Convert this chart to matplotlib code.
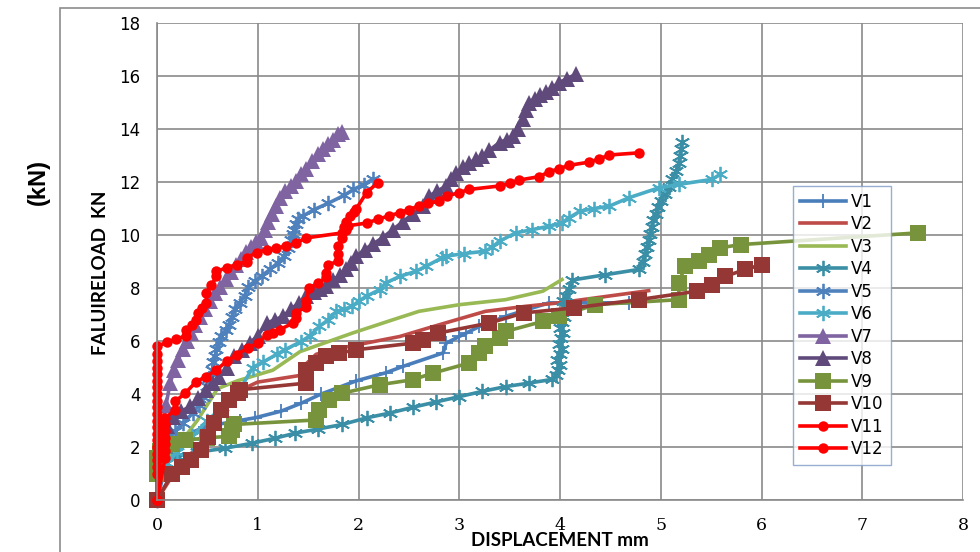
import matplotlib
matplotlib.use("Agg")
import matplotlib.pyplot as plt
from matplotlib.patches import Rectangle

# ---------------- data (displacement mm, load kN) ----------------
v1_pts = [(0, 0), (0.1, 1.5), (0.2, 2.3), (0.48, 2.77), (0.82, 3.0), (0.97, 3.1), (1.23, 3.35),
          (1.43, 3.65), (1.63, 4.0), (1.98, 4.5), (2.27, 4.8), (2.44, 5.04), (2.84, 5.55),
          (2.87, 5.92), (3.0, 6.17), (3.07, 6.3), (3.2, 6.55), (3.46, 6.93), (3.89, 7.44), (4.68, 7.44)]

v2_pts = [(0, 0), (0.2, 1.2), (0.4, 2.0), (0.6, 3.0), (0.8, 4.1), (1.0, 4.45), (1.42, 4.7),
          (1.47, 5.1), (1.58, 5.5), (1.91, 5.8), (2.41, 6.17), (2.7, 6.5), (2.97, 6.8),
          (3.26, 7.12), (3.66, 7.31), (3.99, 7.44), (4.88, 7.9)]

v3_pts = [(0, 1.0), (0.2, 2.0), (0.4, 3.0), (0.6, 4.2), (0.8, 4.5), (1.15, 4.9), (1.42, 5.6),
          (1.94, 6.3), (2.34, 6.8), (2.6, 7.12), (3.0, 7.37), (3.46, 7.56), (3.83, 7.88), (4.02, 8.32)]

v4_pts = [(0, 0), (0.05, 1.3), (0.2, 1.65), (0.4, 1.8), (0.67, 1.95), (0.94, 2.14), (1.17, 2.33),
          (1.37, 2.52), (1.6, 2.68), (1.84, 2.85), (2.08, 3.1), (2.31, 3.28), (2.54, 3.5),
          (2.77, 3.7), (3.0, 3.9), (3.23, 4.1), (3.46, 4.28), (3.69, 4.41), (3.92, 4.55),
          (3.96, 4.7), (3.98, 4.9), (4.0, 5.1), (3.97, 5.3), (4.0, 5.5), (4.02, 5.7), (3.99, 5.9),
          (4.01, 6.1), (4.03, 6.3), (4.0, 6.5), (4.02, 6.7), (4.04, 6.9), (4.02, 7.1), (4.05, 7.3),
          (4.03, 7.5), (4.06, 7.7), (4.09, 7.95), (4.12, 8.3), (4.45, 8.5), (4.78, 8.7),
          (4.82, 9.0), (4.84, 9.3), (4.86, 9.55), (4.88, 9.8), (4.89, 10.05), (4.91, 10.3),
          (4.92, 10.55), (4.95, 10.8), (4.97, 11.05), (5.0, 11.3), (5.04, 11.55), (5.08, 11.8),
          (5.11, 12.1), (5.15, 12.4), (5.18, 12.7), (5.19, 13.0), (5.2, 13.25), (5.21, 13.5)]

v5_pts = [(0, 0), (0.05, 1.5), (0.1, 2.2), (0.18, 2.6), (0.26, 2.9), (0.36, 3.3), (0.42, 3.6),
          (0.46, 3.9), (0.5, 4.3), (0.52, 4.6), (0.55, 4.9), (0.56, 5.2), (0.58, 5.45),
          (0.59, 5.7), (0.62, 5.95), (0.64, 6.2), (0.68, 6.4), (0.71, 6.6), (0.74, 6.9),
          (0.77, 7.2), (0.82, 7.45), (0.87, 7.7), (0.9, 8.05), (0.97, 8.25), (1.04, 8.45),
          (1.12, 8.7), (1.2, 8.95), (1.26, 9.2), (1.3, 9.5), (1.33, 9.8), (1.35, 10.05),
          (1.36, 10.2), (1.38, 10.4), (1.4, 10.6), (1.45, 10.72), (1.56, 10.96), (1.7, 11.2),
          (1.86, 11.5), (1.95, 11.72), (2.05, 11.9), (2.14, 12.1)]

v6_pts = [(0, 1.0), (0.1, 1.4), (0.2, 1.8), (0.35, 2.4), (0.5, 3.0), (0.65, 3.5), (0.82, 4.15),
          (0.95, 5.0), (1.05, 5.2), (1.19, 5.5), (1.27, 5.67), (1.43, 5.98), (1.52, 6.2),
          (1.61, 6.55), (1.7, 6.8), (1.78, 7.12), (1.86, 7.2), (1.94, 7.31), (2.0, 7.5),
          (2.08, 7.69), (2.21, 7.94), (2.27, 8.19), (2.41, 8.44), (2.57, 8.63), (2.67, 8.82),
          (2.83, 9.14), (2.87, 9.2), (3.05, 9.3), (3.26, 9.39), (3.33, 9.55), (3.4, 9.77),
          (3.56, 10.08), (3.72, 10.2), (3.89, 10.33), (4.02, 10.46), (4.09, 10.65), (4.2, 10.9),
          (4.34, 11.0), (4.49, 11.09), (4.68, 11.4), (4.98, 11.78), (5.18, 11.91), (5.51, 12.1),
          (5.59, 12.29)]

v7_pts = [(0, 1.5), (0.03, 2.2), (0.06, 2.9), (0.09, 3.6), (0.13, 4.4), (0.17, 4.9), (0.21, 5.3),
          (0.26, 5.7), (0.3, 6.0), (0.34, 6.3), (0.38, 6.6), (0.43, 6.9), (0.48, 7.2), (0.53, 7.5),
          (0.58, 7.8), (0.63, 8.05), (0.68, 8.35), (0.73, 8.6), (0.78, 8.85), (0.83, 9.1),
          (0.88, 9.35), (0.93, 9.55), (0.98, 9.75), (1.03, 9.9), (1.07, 10.2), (1.1, 10.5),
          (1.14, 10.8), (1.18, 11.1), (1.22, 11.4), (1.27, 11.65), (1.33, 11.85), (1.38, 12.05),
          (1.43, 12.3), (1.48, 12.5), (1.54, 12.8), (1.6, 13.05), (1.65, 13.25), (1.7, 13.45),
          (1.75, 13.6), (1.8, 13.8), (1.84, 13.9)]

v8_pts = [(0.05, 2.3), (0.1, 2.8), (0.16, 3.15), (0.24, 3.35), (0.33, 3.53), (0.41, 3.85),
          (0.49, 4.16), (0.56, 4.4), (0.62, 4.66), (0.69, 5.0), (0.76, 5.42), (0.84, 5.65),
          (0.92, 5.92), (1.0, 6.2), (1.09, 6.68), (1.17, 6.8), (1.25, 6.93), (1.33, 7.2),
          (1.41, 7.45), (1.48, 7.69), (1.56, 7.85), (1.62, 7.95), (1.68, 8.06), (1.75, 8.3),
          (1.82, 8.5), (1.88, 8.7), (1.93, 8.95), (1.98, 9.2), (2.06, 9.45), (2.14, 9.65),
          (2.24, 9.9), (2.34, 10.2), (2.44, 10.5), (2.54, 10.8), (2.64, 11.09), (2.7, 11.47),
          (2.78, 11.65), (2.87, 11.85), (2.92, 12.1), (2.97, 12.35), (3.04, 12.55), (3.1, 12.73),
          (3.17, 12.85), (3.23, 12.98), (3.3, 13.2), (3.4, 13.49), (3.47, 13.6), (3.53, 13.74),
          (3.58, 14.0), (3.63, 14.37), (3.66, 14.7), (3.69, 15.0), (3.75, 15.15), (3.8, 15.28),
          (3.86, 15.38), (3.92, 15.55), (3.99, 15.75), (4.07, 15.9), (4.16, 16.07)]

v9_pts = [(0, 1.0), (0, 1.3), (0, 1.6), (0.03, 1.85), (0.15, 2.1), (0.28, 2.25), (0.5, 2.35),
          (0.71, 2.4), (0.74, 2.65), (0.76, 2.85), (1.58, 3.02), (1.61, 3.4), (1.71, 3.78),
          (1.84, 4.03), (2.21, 4.35), (2.54, 4.54), (2.74, 4.79), (3.1, 5.17), (3.2, 5.55),
          (3.26, 5.8), (3.4, 6.11), (3.46, 6.36), (3.83, 6.74), (3.99, 6.93), (4.35, 7.37),
          (5.18, 7.56), (5.18, 8.19), (5.24, 8.82), (5.38, 9.01), (5.48, 9.26), (5.59, 9.52),
          (5.8, 9.64), (7.55, 10.08)]

v10_pts = [(0, 0), (0.15, 1.0), (0.25, 1.25), (0.34, 1.5), (0.44, 1.89), (0.51, 2.39), (0.57, 2.9),
           (0.64, 3.4), (0.71, 3.78), (0.8, 4.03), (0.82, 4.16), (1.48, 4.41), (1.48, 4.9),
           (1.58, 5.17), (1.68, 5.42), (1.81, 5.55), (1.98, 5.67), (2.54, 5.92), (2.64, 6.05),
           (2.79, 6.3), (3.3, 6.68), (3.64, 7.06), (4.14, 7.25), (4.78, 7.56), (5.36, 7.88),
           (5.51, 8.13), (5.64, 8.44), (5.84, 8.7), (6.0, 8.88)]

v11_pts = [(0, 0), (0, 1.0), (0, 1.25), (0, 1.5), (0, 1.75), (0, 2.0), (0, 2.25), (0, 2.5), (0, 2.75),
           (0, 3.0), (0, 3.25), (0, 3.5), (0, 3.75), (0, 4.0), (0, 4.25), (0, 4.5), (0, 4.75),
           (0, 5.0), (0, 5.25), (0, 5.5), (0, 5.8), (0.1, 5.95), (0.19, 6.07), (0.29, 6.2),
           (0.29, 6.4), (0.35, 6.6), (0.39, 6.8), (0.41, 7.06), (0.45, 7.25), (0.49, 7.44),
           (0.49, 7.81), (0.54, 8.1), (0.59, 8.44), (0.59, 8.63), (0.69, 8.76), (0.79, 8.88),
           (0.89, 9.0), (0.89, 9.15), (0.99, 9.33), (1.09, 9.45), (1.18, 9.5), (1.28, 9.58),
           (1.38, 9.7), (1.48, 9.89), (1.84, 10.08), (1.86, 10.3), (1.88, 10.5), (1.92, 10.7),
           (1.96, 10.85), (1.98, 11.0), (2.08, 11.6), (2.19, 11.97)]

v12_pts = [(0, 0), (0.08, 1.58), (0.08, 1.85), (0.08, 2.1), (0.08, 2.35), (0.08, 2.6), (0.08, 2.85),
           (0.08, 3.09), (0.18, 3.4), (0.18, 3.72), (0.28, 4.03), (0.39, 4.47), (0.49, 4.66),
           (0.59, 4.91), (0.69, 5.23), (0.79, 5.48), (0.9, 5.73), (1.0, 5.92), (1.09, 6.24),
           (1.15, 6.3), (1.22, 6.43), (1.35, 6.68), (1.38, 6.85), (1.38, 7.06), (1.48, 7.3),
           (1.48, 7.5), (1.51, 8.0), (1.6, 8.19), (1.68, 8.4), (1.68, 8.57), (1.7, 8.88),
           (1.8, 9.01), (1.8, 9.3), (1.8, 9.58), (1.84, 9.9), (1.88, 10.2), (1.9, 10.35),
           (2.08, 10.45), (2.19, 10.59), (2.3, 10.72), (2.41, 10.84), (2.5, 10.96), (2.6, 11.09),
           (2.69, 11.19), (2.8, 11.28), (2.88, 11.47), (3.0, 11.6), (3.1, 11.72), (3.4, 11.85),
           (3.5, 11.95), (3.59, 12.07), (3.79, 12.2), (3.89, 12.38), (3.99, 12.5), (4.09, 12.63),
           (4.29, 12.75), (4.39, 12.87), (4.49, 13.02), (4.78, 13.1)]

series_names = ["V1", "V2", "V3", "V4", "V5", "V6", "V7", "V8", "V9", "V10", "V11", "V12"]
series_data = [v1_pts, v2_pts, v3_pts, v4_pts, v5_pts, v6_pts, v7_pts, v8_pts, v9_pts,
               v10_pts, v11_pts, v12_pts]

x_ticks = [0, 1, 2, 3, 4, 5, 6, 7, 8]
y_ticks = [0, 2, 4, 6, 8, 10, 12, 14, 16, 18]

# ---------------- styles ----------------
ast = (6, 2, 0)
styles = {
    "V1": dict(color="#4A7EBB", marker="+", ms=10, mew=1.3),
    "V2": dict(color="#BE4B48", marker=None),
    "V3": dict(color="#98B954", marker=None),
    "V4": dict(color="#3A8FA6", marker=ast, ms=11, mew=1.3),
    "V5": dict(color="#4F81BD", marker=ast, ms=11, mew=1.3),
    "V6": dict(color="#4BACC6", marker=ast, ms=11, mew=1.3),
    "V7": dict(color="#8064A2", marker="^", ms=12, mew=0),
    "V8": dict(color="#604A7B", marker="^", ms=12, mew=0),
    "V9": dict(color="#77933C", marker="s", ms=11, mew=0),
    "V10": dict(color="#953735", marker="s", ms=11, mew=0),
    "V11": dict(color="#FF0000", marker="o", ms=7.5, mew=0),
    "V12": dict(color="#FF0000", marker="o", ms=7.5, mew=0),
}

W, H = 980, 552
fig = plt.figure(figsize=(W / 100, H / 100), dpi=100)
fig.patch.set_facecolor("white")

x0, x1, ytop, ybot = 157, 963, 23, 500
ax = fig.add_axes([x0 / W, 1 - ybot / H, (x1 - x0) / W, (ybot - ytop) / H])

# outer chart border
fig.patches.append(Rectangle((60 / W, -0.1), 1.2, 1 - 8 / H + 0.1, transform=fig.transFigure,
                             fill=False, edgecolor="#8C8C8C", linewidth=1.2, zorder=0))

for name, pts in zip(series_names, series_data):
    st = styles[name]
    xs = [p[0] for p in pts]
    ys = [p[1] for p in pts]
    kw = dict(color=st["color"], lw=2.6, label=name, solid_joinstyle="round")
    if st["marker"] is not None:
        kw.update(marker=st["marker"], markersize=st["ms"], markeredgewidth=st["mew"],
                  markerfacecolor=st["color"], markeredgecolor=st["color"])
    ax.plot(xs, ys, **kw, clip_on=False)

ax.set_xlim(0, 8)
ax.set_ylim(0, 18)
ax.set_xticks(x_ticks)
ax.set_yticks(y_ticks)
ax.set_xticklabels([str(t) for t in x_ticks], fontsize=12.5, family="DejaVu Serif")
ax.set_yticklabels([str(t) for t in y_ticks], fontsize=12, family="DejaVu Sans")
ax.tick_params(axis="both", length=0)
ax.tick_params(axis="x", pad=12)
ax.tick_params(axis="y", pad=12)
ax.grid(True, color="#8A8A8A", linewidth=1.2)
ax.set_axisbelow(True)
for side in ["top", "right"]:
    ax.spines[side].set_visible(False)
ax.spines["left"].set_color("#8A8A8A")
ax.spines["bottom"].set_color("#8A8A8A")
ax.spines["left"].set_linewidth(1.2)
ax.spines["bottom"].set_linewidth(1.2)

fig.text(560 / W, 1 - 541 / H, "DISPLACEMENT mm", ha="center", va="center",
         fontsize=13.5, fontweight="bold", family="Lato")
fig.text(100 / W, 1 - 273 / H, "FALUIRELOAD  KN", ha="center", va="center", rotation=90,
         fontsize=13.5, fontweight="bold", family="Lato")
fig.text(38 / W, 1 - 182 / H, "(kN)", ha="center", va="center", rotation=90,
         fontsize=17, fontweight="bold", family="Liberation Sans")

leg = ax.legend(loc="upper left", bbox_to_anchor=(793 / W, 1 - 186 / H),
                bbox_transform=fig.transFigure, fontsize=12, frameon=True, fancybox=False,
                handlelength=2.8, labelspacing=0.27, borderpad=0.4, handletextpad=0.3,
                borderaxespad=0)
leg.get_frame().set_edgecolor("#7F9BC8")
leg.get_frame().set_linewidth(1.0)
leg.set_zorder(10)

fig.savefig("out.png", dpi=100, facecolor="white")
